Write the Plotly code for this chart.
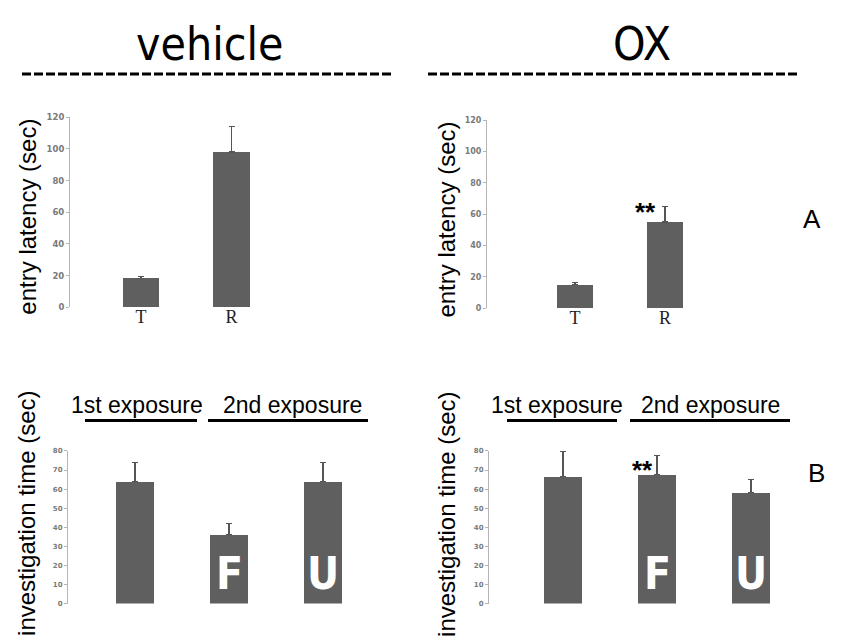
import plotly.graph_objects as go

W, H = 851, 641

# ---------------- data ----------------
latency_cats = ["T", "R"]
veh_latency = [18, 98]
veh_latency_err = [1.5, 16]
ox_latency = [15, 55]
ox_latency_err = [1.5, 10]

invest_cats = ["1st", "F", "U"]
veh_invest = [64, 36, 64]
veh_invest_err = [10, 6, 10]
ox_invest = [66.5, 67.5, 58]
ox_invest_err = [13, 10, 7]

latency_ticks = [0, 20, 40, 60, 80, 100, 120]
invest_ticks = [0, 10, 20, 30, 40, 50, 60, 70, 80]

BAR = "#5f5f5f"
NARROW = "Liberation Sans Narrow, Arial Narrow, DejaVu Sans Condensed, sans-serif"


def px(x):
    return x / W


def py(y):
    return 1 - y / H


fig = go.Figure()


def add_bars(cats, vals, errs, ax):
    fig.add_trace(go.Bar(
        x=cats, y=vals, width=0.4,
        marker=dict(color=BAR, line=dict(width=0)),
        error_y=dict(type="data", symmetric=False, array=errs,
                     arrayminus=[0] * len(errs), color="#555555",
                     thickness=1.2, width=3),
        xaxis="x" + ax, yaxis="y" + ax, showlegend=False))


add_bars(latency_cats, veh_latency, veh_latency_err, "")
add_bars(latency_cats, ox_latency, ox_latency_err, "2")
add_bars(invest_cats, veh_invest, veh_invest_err, "3")
add_bars(invest_cats, ox_invest, ox_invest_err, "4")

fig.data[0].xaxis = "x"
fig.data[0].yaxis = "y"


def yax(dom, rng, ticks, anchor, size):
    return dict(domain=[py(dom[0]), py(dom[1])], range=rng, tickvals=ticks,
                showline=True, linecolor="#b5b5b5", linewidth=1,
                ticks="outside", ticklen=3, tickcolor="#b5b5b5",
                showgrid=False, zeroline=False,
                tickfont=dict(family="DejaVu Sans", size=size, color="#7a7a7a", weight="bold"),
                anchor=anchor, fixedrange=True)


def xax(dom, rng, anchor, labels=True, pos=None):
    d = dict(domain=[px(dom[0]), px(dom[1])], range=rng, type="category",
             showline=False, showgrid=False, zeroline=False, ticks="",
             showticklabels=labels,
             tickfont=dict(family="Liberation Serif", size=18, color="#222"),
             anchor=anchor, fixedrange=True)
    if pos is not None:
        d["anchor"] = "free"
        d["position"] = py(pos)
    return d


fig.update_layout(
    width=W, height=H, margin=dict(l=0, r=0, t=0, b=0),
    paper_bgcolor="white", plot_bgcolor="white", bargap=0,
    xaxis=xax((70, 290), [-0.785, 1.646], "y", pos=304),
    yaxis=yax((307, 114), [0, 120], latency_ticks, "x", 8.5),
    xaxis2=xax((487, 720), [-0.978, 1.611], "y2", pos=305),
    yaxis2=yax((308, 117), [0, 120], latency_ticks, "x2", 8),
    xaxis3=xax((68, 380), [-0.713, 2.606], "y3", labels=False),
    yaxis3=yax((608, 453), [0, 80], invest_ticks, "x3", 7),
    xaxis4=xax((489, 800), [-0.787, 2.521], "y4", labels=False),
    yaxis4=yax((608, 453), [0, 80], invest_ticks, "x4", 7),
)

ann = []


def ptext(x, y, text, size, family="Liberation Sans", angle=0, color="black"):
    ann.append(dict(x=px(x), y=py(y), xref="paper", yref="paper", text=text,
                    showarrow=False, textangle=angle, xanchor="center", yanchor="middle",
                    font=dict(family=family, size=size, color=color)))


# headers
ptext(209, 40, "vehicle", 46, family=NARROW)
ptext(642, 40, "OX", 46, family=NARROW)

# y axis titles
ptext(28, 215, "entry latency (sec)", 24, angle=-90)
ptext(447, 218, "entry latency (sec)", 24, angle=-90)
ptext(27, 517, "investigation time (sec)", 24, angle=-90)
ptext(447, 517, "investigation time (sec)", 24, angle=-90)

# exposure labels
ptext(137, 406, "1st exposure", 23)
ptext(292, 406, "2nd exposure", 23)
ptext(557, 406, "1st exposure", 23)
ptext(710, 406, "2nd exposure", 23)

# panel letters
ptext(812, 217, "A", 26)
ptext(816, 475, "B", 26)

# significance stars (anchored to data)
ann.append(dict(x="R", y=ox_latency[1] + ox_latency_err[1], xref="x2", yref="y2",
                text="<b>**</b>", showarrow=False, xshift=-20, yshift=-6,
                font=dict(family="Liberation Sans", size=26, color="black")))
ann.append(dict(x="F", y=ox_invest[1] + ox_invest_err[1], xref="x4", yref="y4",
                text="<b>**</b>", showarrow=False, xshift=-15, yshift=-14,
                font=dict(family="Liberation Sans", size=26, color="black")))

# letters inside bars
for ax in ("3", "4"):
    for c in ("F", "U"):
        ann.append(dict(x=c, y=15.5, xref="x" + ax, yref="y" + ax, text="<b>%s</b>" % c,
                        showarrow=False, font=dict(family=NARROW, size=44, color="white")))

fig.update_layout(annotations=ann)

# dashed header rules and exposure underlines
shapes = [
    dict(type="line", xref="paper", yref="paper", x0=px(22), x1=px(393), y0=py(70), y1=py(70),
         line=dict(color="black", width=3, dash="9px,3px")),
    dict(type="line", xref="paper", yref="paper", x0=px(428), x1=px(797), y0=py(70), y1=py(70),
         line=dict(color="black", width=3, dash="9px,3px")),
]
for x0, x1 in [(85, 197), (208, 368), (507, 617), (630, 790)]:
    shapes.append(dict(type="line", xref="paper", yref="paper", x0=px(x0), x1=px(x1),
                       y0=py(422), y1=py(422), line=dict(color="black", width=3)))
fig.update_layout(shapes=shapes)

fig.write_html("out.html")
